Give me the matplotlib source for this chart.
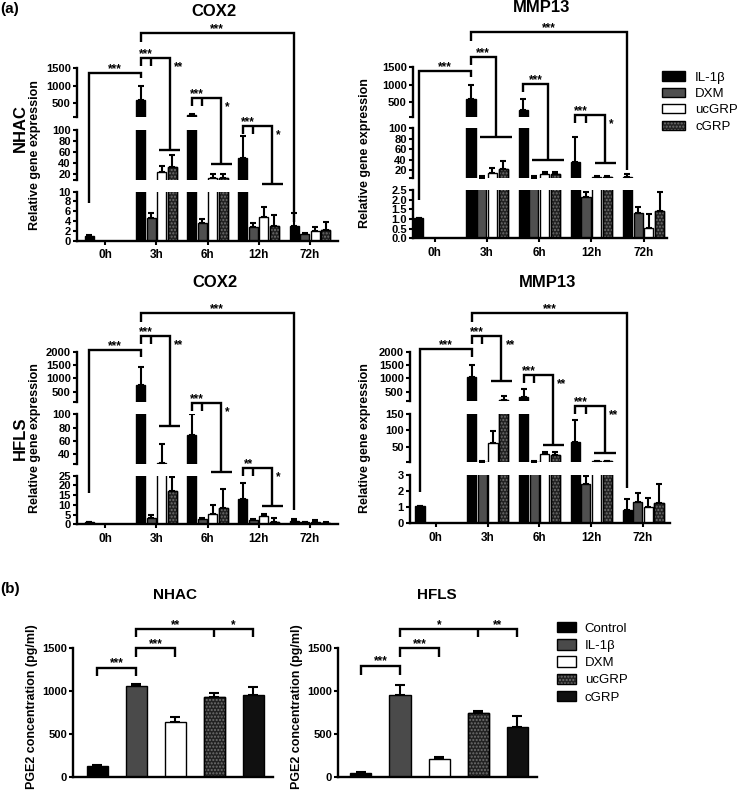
import numpy as np
import matplotlib.pyplot as plt
from matplotlib.patches import Patch

plt.rcParams['font.family'] = ['Liberation Sans', 'DejaVu Sans']
plt.rcParams['font.weight'] = 'bold'
plt.rcParams['hatch.linewidth'] = 1.0

# ---------------- data ----------------
times = ['0h', '3h', '6h', '12h', '72h']
treat_a = ['IL-1β', 'DXM', 'ucGRP', 'cGRP']

# rows = time point, columns = treatment (IL-1β, DXM, ucGRP, cGRP)
nhac_cox2 = [[1.0, 0, 0, 0], [600, 4.6, 24, 33], [170, 3.7, 12, 12], [50, 2.7, 4.8, 3.0], [3.0, 1.4, 2.0, 2.2]]
nhac_cox2_err = [[0.1, 0, 0, 0], [400, 1.0, 11, 21], [30, 0.7, 8, 8], [40, 1.0, 2.1, 2.2], [2.6, 0.2, 0.8, 1.7]]
nhac_mmp13 = [[1.05, 0, 0, 0], [600, 4, 15, 22], [280, 4, 13, 13], [35, 2.15, 6, 6], [7, 1.3, 0.55, 1.41]]
nhac_mmp13_err = [[0.02, 0, 0, 0], [380, 3.5, 8, 15], [320, 3.5, 3, 3], [48, 0.25, 3, 3], [5, 0.34, 0.69, 1.0]]
hfls_cox2 = [[1.0, 0, 0, 0], [750, 3.4, 27, 17], [69, 2.6, 5.1, 8.2], [13, 2.2, 4.3, 1.4], [1.7, 1.0, 1.4, 0.9]]
hfls_cox2_err = [[0.1, 0, 0, 0], [690, 1.4, 28, 7.5], [31, 0.8, 4.8, 9.8], [8.4, 0.5, 1.0, 2.0], [1.2, 0.4, 0.8, 0.4]]
hfls_mmp13 = [[1.05, 0, 0, 0], [1040, 4, 60, 190], [287, 4, 28, 25], [65, 2.42, 5, 5], [0.83, 1.35, 1.03, 1.24]]
hfls_mmp13_err = [[0.02, 0, 0, 0], [460, 1, 37, 150], [313, 1, 6, 8], [67, 0.52, 2, 2], [0.66, 0.55, 0.52, 1.18]]

treat_b = ['Control', 'IL-1β', 'DXM', 'ucGRP', 'cGRP']
pge2_nhac = [130, 1060, 640, 935, 960]
pge2_nhac_err = [15, 20, 60, 40, 85]
pge2_hfls = [55, 960, 210, 745, 590]
pge2_hfls_err = [5, 110, 30, 25, 120]

# broken y-axis segments, top to bottom: (low, high, tick labels)
cox2_nhac_segs = [(100, 1500, ['500', '1000', '1500']), (10, 100, ['20', '40', '60', '80', '100']),
                  (0, 10, ['0', '2', '4', '6', '8', '10'])]
mmp13_nhac_segs = [(100, 1500, ['500', '1000', '1500']), (5, 100, ['20', '40', '60', '80', '100']),
                   (0, 2.5, ['0.0', '0.5', '1.0', '1.5', '2.0', '2.5'])]
cox2_hfls_segs = [(100, 2000, ['500', '1000', '1500', '2000']), (25, 100, ['40', '60', '80', '100']),
                  (0, 25, ['0', '5', '10', '15', '20', '25'])]
mmp13_hfls_segs = [(150, 2000, ['500', '1000', '1500', '2000']), (3, 150, ['50', '100', '150']),
                   (0, 3, ['0', '1', '2', '3'])]
pge2_ticks = ['0', '500', '1000', '1500']

# ---------------- styles ----------------
W, H = 738, 802
fig = plt.figure(figsize=(W / 100, H / 100), dpi=100)

style_a = {'IL-1β': ('black', False), 'DXM': ('#4f4f4f', False), 'ucGRP': ('white', False), 'cGRP': ('#222222', True)}
style_b = {'Control': ('black', False), 'IL-1β': ('#4a4a4a', False), 'DXM': ('white', False),
           'ucGRP': ('#222222', True), 'cGRP': ('#101010', False)}
LW = 1.7
STEP, BW = 0.205, 0.175
DOTS = '#707070'
TICK_FS = 8


def box(x0, y0, x1, y1):
    return [x0 / W, 1 - y1 / H, (x1 - x0) / W, (y1 - y0) / H]


def pos(g, k):
    return g + (k - 1.5) * STEP


def draw_bar(ax, x, h, e, w, fc, dotted, cap=2.5, lo=0):
    # in an upper segment of a broken axis, skip marks that lie below it
    if h > lo:
        ax.bar(x, h, w, color=fc, edgecolor='black', linewidth=1.0, zorder=2)
        if dotted:
            ax.bar(x, h, w, color='none', edgecolor=DOTS, hatch='.....', linewidth=0, zorder=2.1)
            ax.bar(x, h, w, fill=False, edgecolor='black', linewidth=1.0, zorder=2.2)
    if e > 0 and h + e > lo:
        ax.errorbar(x, h, yerr=[[0], [e]], fmt='none', ecolor='black', elinewidth=1.5,
                    capsize=cap, capthick=1.5, zorder=1.5)


def style_axis(ax):
    ax.patch.set_visible(False)
    ax.spines['top'].set_visible(False)
    ax.spines['right'].set_visible(False)
    ax.spines['left'].set_linewidth(LW)
    ax.spines['bottom'].set_linewidth(LW)
    ax.tick_params(axis='y', length=3, width=1.5, labelsize=TICK_FS, pad=1.5)


def broken_panel(x0, x1, xlim, seg_px, segs, vals, errs):
    for (yt, yb), (lo, hi, labels) in zip(seg_px, segs):
        ax = fig.add_axes(box(x0, yt, x1, yb))
        ax.set_xlim(xlim)
        ax.set_ylim(lo, hi)
        style_axis(ax)
        if lo == 0:
            ax.set_xticks(range(len(times)), times)
            ax.tick_params(axis='x', length=3, width=1.5, labelsize=TICK_FS + 0.5, pad=3)
        else:
            ax.spines['bottom'].set_visible(False)
            ax.set_xticks([])
        ticks = [float(s) for s in labels]
        if lo not in ticks:
            ticks, labels = [lo] + ticks, [''] + list(labels)
        ax.set_yticks(ticks, labels)
        for g in range(len(times)):
            for k, name in enumerate(treat_a):
                if vals[g][k] <= 0:
                    continue
                fc, dotted = style_a[name]
                draw_bar(ax, pos(g, k), vals[g][k], errs[g][k], BW, fc, dotted, lo=lo)
    ov = fig.add_axes([x0 / W, 0, (x1 - x0) / W, 1], zorder=5)
    ov.set_xlim(xlim)
    ov.set_ylim(H, 0)
    ov.axis('off')
    return ov, (x1 - x0) / (xlim[1] - xlim[0])


def line(ov, xs, ys):
    ov.plot(xs, ys, color='black', lw=LW, clip_on=False, solid_joinstyle='miter', solid_capstyle='butt')


def star(ov, x, y, s):
    ov.text(x, y, s, ha='center', va='baseline', fontsize=8.5, fontweight='bold')


def span_bracket(ov, g0, g1, top, foot0, foot1, s):
    x0, x1 = pos(g0, 0), pos(g1, 0)
    line(ov, [x0, x0, x1, x1], [foot0, top, top, foot1])
    star(ov, (x0 + x1) / 2, top - 1, s)


def group_bracket(ov, g, top, drop, s1, s2, tick, ppu):
    c0, c1 = (1.8, 3.8) if tick else (0.8, 3.8)
    xl, xr = pos(g, 0), pos(g, (c0 + c1) / 2)
    line(ov, [xl, xl, xr, xr], [top + 8, top, top, drop])
    line(ov, [pos(g, c0), pos(g, c1)], [drop, drop])
    if tick:
        line(ov, [pos(g, 1), pos(g, 1)], [top, top + 8])
        star(ov, (xl + pos(g, 1)) / 2, top - 1, s1)
    else:
        star(ov, (xl + xr) / 2, top - 1, s1)
    if s2:
        star(ov, xr + (4 + 2.3 * len(s2)) / ppu, top + 12, s2)


# ---------------- panel (a) ----------------
xl1 = (-0.55, 4.55)
ov, p = broken_panel(77, 338, xl1, [(68.3, 117.2), (130, 179.5), (191.7, 240.7)],
                     cox2_nhac_segs, nhac_cox2, nhac_cox2_err)
span_bracket(ov, 0, 1, 73, 203, 78, '***')
span_bracket(ov, 1, 4, 33, 42, 222, '***')
group_bracket(ov, 1, 58, 150, '***', '**', True, p)
group_bracket(ov, 2, 98, 164, '***', '*', True, p)
group_bracket(ov, 3, 126, 184, '***', '*', True, p)

xl2 = (-0.42, 4.45)
ov, p = broken_panel(413, 667, xl2, [(67, 116.5), (128.3, 177.8), (190, 238.3)],
                     mmp13_nhac_segs, nhac_mmp13, nhac_mmp13_err)
span_bracket(ov, 0, 1, 71, 200, 77, '***')
span_bracket(ov, 1, 4, 32, 41, 170, '***')
group_bracket(ov, 1, 57, 137, '***', None, False, p)
group_bracket(ov, 2, 84, 160, '***', None, False, p)
group_bracket(ov, 3, 115, 163, '***', '*', True, p)

ov, p = broken_panel(77, 338, xl1, [(351.7, 402.4), (414.3, 463.9), (475.7, 524.3)],
                     cox2_hfls_segs, hfls_cox2, hfls_cox2_err)
span_bracket(ov, 0, 1, 350, 493, 357, '***')
span_bracket(ov, 1, 4, 312.7, 322, 510, '***')
group_bracket(ov, 1, 336, 426, '***', '**', True, p)
group_bracket(ov, 2, 402.7, 471.7, '***', '*', True, p)
group_bracket(ov, 3, 467.7, 506, '**', '*', True, p)

xl4 = (-0.5, 4.52)
ov, p = broken_panel(410, 670, xl4, [(351.7, 401), (414, 462.1), (475, 523.3)],
                     mmp13_hfls_segs, hfls_mmp13, hfls_mmp13_err)
span_bracket(ov, 0, 1, 349.3, 491.7, 356.7, '***')
span_bracket(ov, 1, 4, 312.7, 322, 488, '***')
group_bracket(ov, 1, 336, 380.7, '***', '**', True, p)
group_bracket(ov, 2, 375, 445, '***', '**', True, p)
group_bracket(ov, 3, 406, 453.3, '***', '**', True, p)


# ---------------- panel (b) ----------------
def pge2_panel(x0, x1, xlim, vals, errs, brackets, long_br):
    ax = fig.add_axes(box(x0, 648.3, x1, 777.3))
    ax.set_xlim(xlim)
    ax.set_ylim(0, 1500)
    style_axis(ax)
    ax.set_xticks([])
    ax.set_yticks([float(t) for t in pge2_ticks], pge2_ticks)
    for i, name in enumerate(treat_b):
        fc, dotted = style_b[name]
        draw_bar(ax, i, vals[i], errs[i], 0.54, fc, dotted, cap=3.5)
    ov = fig.add_axes([x0 / W, 0, (x1 - x0) / W, 1], zorder=5)
    ov.set_xlim(xlim)
    ov.set_ylim(H, 0)
    ov.axis('off')
    for i, j, top, s in brackets:
        line(ov, [i, i, j, j], [top + 8.5, top, top, top + 8.5])
        star(ov, (i + j) / 2, top - 1.5, s)
    i, m, j, top, s1, s2 = long_br
    line(ov, [i, i, j, j], [top + 8, top, top, top + 8])
    line(ov, [m, m], [top, top + 8])
    star(ov, (i + m) / 2, top - 1.5, s1)
    star(ov, (m + j) / 2, top - 1.5, s2)


pge2_panel(73.3, 273, (-0.62, 4.51), pge2_nhac, pge2_nhac_err,
           [(0, 1, 667.7, '***'), (1, 2, 648.3, '***')], (1, 3, 4, 629.3, '**', '*'))
pge2_panel(338.3, 536.7, (-0.58, 4.5), pge2_hfls, pge2_hfls_err,
           [(0, 1, 666, '***'), (1, 2, 648.3, '***')], (1, 3, 4, 629.3, '*', '**'))


# ---------------- texts ----------------
def ftext(x, y, s, size, rot=0, ha='center'):
    fig.text(x / W, 1 - y / H, s, fontsize=size, rotation=rot, ha=ha, va='center', fontweight='bold')


ftext(0, 9, '(a)', 11, ha='left')
ftext(0, 589, '(b)', 11, ha='left')
ftext(214, 11, 'COX2', 12)
ftext(541.7, 8, 'MMP13', 12)
ftext(215, 282.5, 'COX2', 12)
ftext(548, 282.5, 'MMP13', 12)
ftext(175, 595, 'NHAC', 11)
ftext(437, 595, 'HFLS', 11)
ftext(20, 128, 'NHAC', 12, rot=90)
ftext(20, 438, 'HFLS', 12, rot=90)
for x, y in [(35, 155), (365, 153), (35, 438), (365, 438)]:
    ftext(x, y, 'Relative gene expression', 9, rot=90)
ftext(32, 707, 'PGE2 concentration (pg/ml)', 9, rot=90)
ftext(297, 707, 'PGE2 concentration (pg/ml)', 9, rot=90)


def handles(names, styles):
    hs = []
    for n in names:
        fc, dotted = styles[n]
        if dotted:
            hs.append((Patch(facecolor=fc, edgecolor=DOTS, hatch='.....', linewidth=0),
                       Patch(fill=False, edgecolor='black', linewidth=1.0)))
        else:
            hs.append(Patch(facecolor=fc, edgecolor='black', linewidth=1.0))
    return hs


fig.legend(handles(treat_a, style_a), treat_a, loc='upper left', bbox_to_anchor=(661.7 / W, 1 - 71.5 / H),
           frameon=False, borderpad=0, borderaxespad=0, handlelength=1.77, handleheight=0.68,
           handletextpad=0.76, labelspacing=0.32, prop={'size': 9.5, 'weight': 'normal'})
fig.legend(handles(treat_b, style_b), treat_b, loc='upper left', bbox_to_anchor=(556.7 / W, 1 - 622 / H),
           frameon=False, borderpad=0, borderaxespad=0, handlelength=1.5, handleheight=0.83,
           handletextpad=0.63, labelspacing=0.34, prop={'size': 9.5, 'weight': 'normal'})

fig.savefig('out.png', dpi=100)
